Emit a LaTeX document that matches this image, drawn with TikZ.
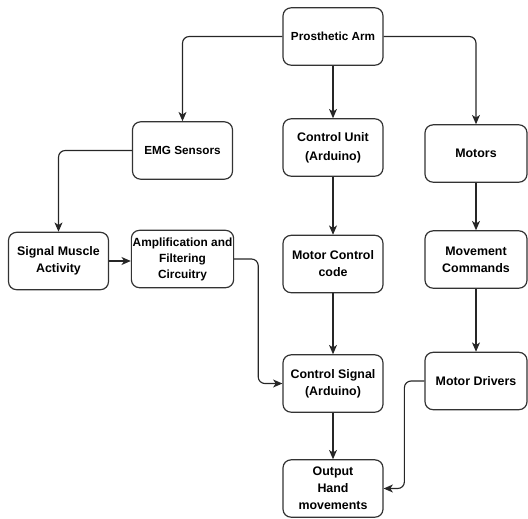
\documentclass[tikz,border=0pt]{standalone}
\usepackage{fontspec}
\setmainfont{Liberation Sans}
\usetikzlibrary{arrows.meta}
\begin{document}
\begin{tikzpicture}[x=0.75pt,y=-0.75pt,
  box/.style={draw=black!80,line width=0.9pt,rounded corners=6pt,fill=white,
    minimum width=75pt,minimum height=43pt,inner sep=1pt,align=center,
    font=\bfseries\fontsize{9.3}{14}\selectfont},
  arr/.style={draw=black!85,line width=0.85pt,rounded corners=5pt,-{Stealth[length=7pt,width=6pt,inset=2pt]}}]
\useasboundingbox (0,0) rectangle (528,518);
\node[box,font=\bfseries\fontsize{8.8}{13}\selectfont] (pa) at (333,36.5) {Prosthetic Arm};
\node[box,font=\bfseries\fontsize{8.8}{13}\selectfont] (emg) at (182.5,150.5) {EMG Sensors};
\node[box] (cu) at (333,147.5) {Control Unit\\(Arduino)};
\node[box,minimum width=76.5pt] (mot) at (476,153.5) {Motors};
\node[box,font=\bfseries\fontsize{9.3}{12.8}\selectfont] (sma) at (58.5,261) {Signal Muscle\\Activity};
\node[box,font=\bfseries\fontsize{8.9}{12}\selectfont] (amp) at (182.5,259) {Amplification and\\Filtering\\Circuitry};
\node[box,font=\bfseries\fontsize{9.3}{12.8}\selectfont] (mcc) at (333,264) {Motor Control\\code};
\node[box,minimum width=76.5pt,font=\bfseries\fontsize{9.3}{12.8}\selectfont] (mc) at (476,259.5) {Movement\\Commands};
\node[box,font=\bfseries\fontsize{9.3}{12.8}\selectfont] (cs) at (333,383.5) {Control Signal\\(Arduino)};
\node[box,minimum width=76.5pt] (md) at (476,381) {Motor Drivers};
\node[box,font=\bfseries\fontsize{9.3}{12.8}\selectfont] (out) at (333,488.5) {Output\\Hand\\movements};
\draw[arr] (pa.west) -| (emg.north);
\draw[arr] (pa.east) -| (mot.north);
\draw[arr] (pa) -- (cu);
\draw[arr] (emg.west) -| (sma.north);
\draw[arr] (sma.east) -- (sma.east -| amp.west);
\draw[arr] (amp.east) -- ++(24,0) |- (cs.west);
\draw[arr] (cu) -- (mcc);
\draw[arr] (mcc) -- (cs);
\draw[arr] (cs) -- (out);
\draw[arr] (mot) -- (mc);
\draw[arr] (mc) -- (md);
\draw[arr] (md.west) -- ++(-20,0) |- (out.east);
\end{tikzpicture}
\end{document}
